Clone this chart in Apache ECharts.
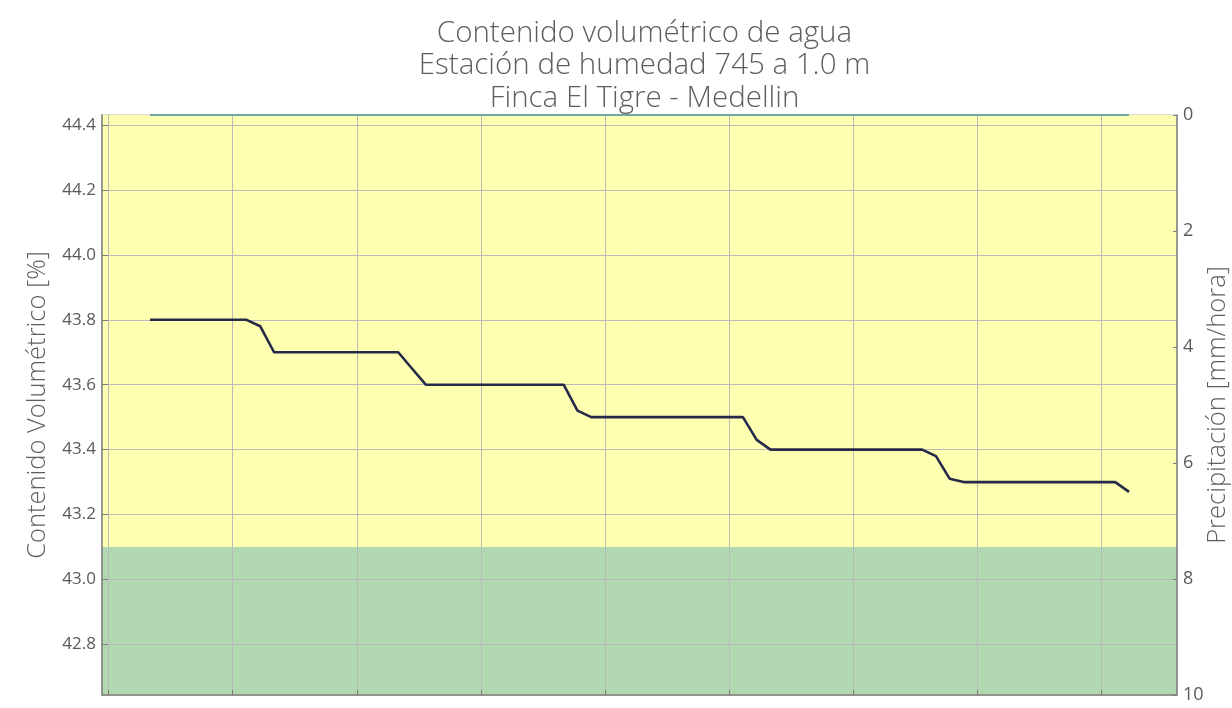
<!DOCTYPE html>
<html>
<head>
<meta charset="utf-8">
<script src="https://cdn.jsdelivr.net/npm/echarts@6/dist/echarts.min.js"></script>
<style>
  html, body { margin: 0; padding: 0; background: #ffffff; }
  #chart { width: 1232px; height: 708px; }
</style>
</head>
<body>
<div id="chart"></div>
<script>
// Volumetric water content readings (every 20 min), %
const soilMoisture = [
  43.8, 43.8, 43.8, 43.8, 43.8, 43.8, 43.8, 43.8,
  43.78,
  43.7, 43.7, 43.7, 43.7, 43.7, 43.7, 43.7, 43.7, 43.7, 43.7,
  43.65,
  43.6, 43.6, 43.6, 43.6, 43.6, 43.6, 43.6, 43.6, 43.6, 43.6, 43.6,
  43.52,
  43.5, 43.5, 43.5, 43.5, 43.5, 43.5, 43.5, 43.5, 43.5, 43.5, 43.5, 43.5,
  43.43,
  43.4, 43.4, 43.4, 43.4, 43.4, 43.4, 43.4, 43.4, 43.4, 43.4, 43.4, 43.4,
  43.38,
  43.31,
  43.3, 43.3, 43.3, 43.3, 43.3, 43.3, 43.3, 43.3, 43.3, 43.3, 43.3, 43.3,
  43.27
];

// Rainfall over the same readings, mm/hora
const precipitation = [
  0, 0, 0, 0, 0, 0, 0, 0, 0, 0, 0, 0, 0, 0, 0, 0, 0, 0,
  0, 0, 0, 0, 0, 0, 0, 0, 0, 0, 0, 0, 0, 0, 0, 0, 0, 0,
  0, 0, 0, 0, 0, 0, 0, 0, 0, 0, 0, 0, 0, 0, 0, 0, 0, 0,
  0, 0, 0, 0, 0, 0, 0, 0, 0, 0, 0, 0, 0, 0, 0, 0, 0, 0
];

// Vertical grid positions (reading index, every 3 h)
const timeTicks = [-3, 6, 15, 24, 33, 42, 51, 60, 69];
// Left axis tick labels
const moistureTicks = [42.8, 43.0, 43.2, 43.4, 43.6, 43.8, 44.0, 44.2, 44.4];
// Right axis tick labels
const rainTicks = [0, 2, 4, 6, 8, 10];

// Threshold separating the two moisture bands
const bandLimit = 43.1;
const moistureMin = 42.644;
const moistureMax = 44.431;

const titleLines = [
  'Contenido volumétrico de agua',
  'Estación de humedad 745 a 1.0 m',
  'Finca El Tigre - Medellin'
];

const FONT = '"Open Sans", Lato, sans-serif';
const TEXT = '#5e5e5e';
const AXIS = '#7d7d7d';
const GRID = '#bababa';

const chart = echarts.init(document.getElementById('chart'), null, { renderer: 'canvas' });

chart.setOption({
  animation: false,
  backgroundColor: '#ffffff',
  title: {
    text: titleLines.join('\n'),
    left: 639.5,
    top: 12,
    textAlign: 'center',
    textStyle: {
      fontFamily: FONT,
      fontWeight: 300,
      fontSize: 29.5,
      lineHeight: 32.5,
      color: TEXT
    }
  },
  grid: {
    left: 102,
    right: 55,
    top: 115,
    bottom: 13,
    outerBoundsMode: 'none',
    containLabel: false,
    show: true,
    borderColor: '#b5b5b5',
    borderWidth: 1,
    backgroundColor: 'transparent'
  },
  xAxis: {
    type: 'value',
    min: -3.48,
    max: 74.48,
    z: 5,
    axisLine: { show: true, onZero: false, lineStyle: { color: AXIS, width: 1.5 } },
    axisTick: { show: true, inside: true, length: 5, customValues: timeTicks, lineStyle: { color: AXIS } },
    axisLabel: { show: false, customValues: timeTicks },
    splitLine: { show: true, lineStyle: { color: GRID, width: 1 } }
  },
  yAxis: [
    {
      type: 'value',
      position: 'left',
      min: moistureMin,
      max: moistureMax,
      z: 5,
      name: 'Contenido Volumétrico [%]',
      nameLocation: 'middle',
      nameGap: 51,
      nameRotate: 90,
      nameMoveOverlap: false,
      nameTextStyle: { fontFamily: FONT, fontWeight: 300, fontSize: 25.5, color: TEXT },
      axisLine: { show: true, onZero: false, lineStyle: { color: AXIS, width: 1.5 } },
      axisTick: { show: true, inside: true, length: 6, customValues: moistureTicks, lineStyle: { color: AXIS } },
      axisLabel: {
        customValues: moistureTicks,
        formatter: v => v.toFixed(1),
        fontFamily: FONT,
        fontSize: 17,
        color: '#5a5a5a',
        margin: 6
      },
      splitLine: { show: true, lineStyle: { color: GRID, width: 1 } }
    },
    {
      type: 'value',
      position: 'right',
      min: 0,
      max: 10,
      interval: 2,
      inverse: true,
      z: 5,
      name: 'Precipitación [mm/hora]',
      nameLocation: 'middle',
      nameGap: 28,
      nameRotate: 90,
      nameMoveOverlap: false,
      nameTextStyle: { fontFamily: FONT, fontWeight: 300, fontSize: 25.5, color: TEXT },
      axisLine: { show: true, onZero: false, lineStyle: { color: AXIS, width: 1.5 } },
      axisTick: { show: true, inside: true, length: 4, lineStyle: { color: AXIS } },
      axisLabel: {
        formatter: v => (rainTicks.indexOf(v) >= 0 ? String(v) : ''),
        fontFamily: FONT,
        fontSize: 18,
        color: '#5a5a5a',
        margin: 6
      },
      splitLine: { show: false }
    }
  ],
  series: [
    {
      name: 'Bandas',
      type: 'line',
      yAxisIndex: 0,
      z: 0,
      data: [],
      silent: true,
      markArea: {
        silent: true,
        z: 0,
        data: [
          [
            { yAxis: bandLimit, itemStyle: { color: '#ffffb2', opacity: 1 } },
            { yAxis: moistureMax }
          ],
          [
            { yAxis: moistureMin, itemStyle: { color: '#b2d8b2', opacity: 1 } },
            { yAxis: bandLimit }
          ]
        ]
      }
    },
    {
      name: 'Precipitación',
      type: 'line',
      yAxisIndex: 1,
      z: 6,
      symbol: 'none',
      lineStyle: { color: '#6fa6a6', width: 2 },
      data: precipitation.map((v, i) => [i, v])
    },
    {
      name: 'Contenido volumétrico',
      type: 'line',
      yAxisIndex: 0,
      z: 7,
      symbol: 'none',
      lineStyle: { color: '#262a48', width: 2.6 },
      data: soilMoisture.map((v, i) => [i, v])
    }
  ]
});
</script>
</body>
</html>
